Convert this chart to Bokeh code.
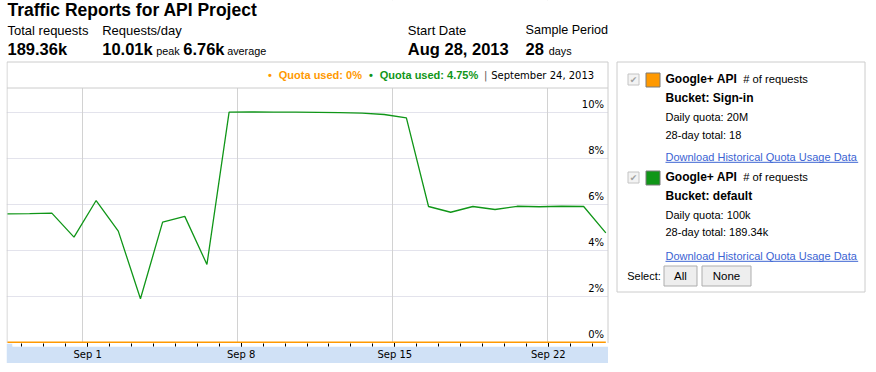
import datetime as dt
from bokeh.plotting import figure
from bokeh.layouts import row, column
from bokeh.models import (Range1d, LinearAxis, FixedTicker, Grid, Label, CustomJSTickFormatter)
from bokeh.embed import file_html
from bokeh.resources import INLINE

# ---------------- data ----------------
dates = ["2013-08-28", "2013-08-29", "2013-08-30", "2013-08-31", "2013-09-01", "2013-09-02",
         "2013-09-03", "2013-09-04", "2013-09-05", "2013-09-06", "2013-09-07", "2013-09-08",
         "2013-09-09", "2013-09-10", "2013-09-11", "2013-09-12", "2013-09-13", "2013-09-14",
         "2013-09-15", "2013-09-16", "2013-09-17", "2013-09-18", "2013-09-19", "2013-09-20",
         "2013-09-21", "2013-09-22", "2013-09-23", "2013-09-24"]
# quota used, percent of daily quota
signin_pct = [0, 0, 0, 0, 0, 0, 0, 0, 0, 0, 0, 0, 0, 0,
              0, 0, 0, 0, 0, 0, 0, 0, 0, 0, 0, 0, 0, 0]
default_pct = [5.58, 5.59, 5.61, 4.57, 6.16, 4.83, 1.89, 5.22, 5.47, 3.38,
               10.0, 10.01, 10.0, 10.0, 9.99, 9.98, 9.96, 9.9, 9.75,
               5.9, 5.65, 5.9, 5.77, 5.91, 5.89, 5.91, 5.9, 4.75]
tick_dates = ["2013-09-01", "2013-09-08", "2013-09-15", "2013-09-22"]
tick_labels = ["Sep 1", "Sep 8", "Sep 15", "Sep 22"]
y_ticks = [0, 2, 4, 6, 8, 10]
y_tick_labels = ["0%", "2%", "4%", "6%", "8%", "10%"]

ORANGE = "#ff9900"
GREEN = "#109618"
LINK = "#3b63d3"
BAND = "#d0e1f6"
FONT = "Liberation Sans"
SMALL = "DejaVu Sans"
TICK_SHIFT = 0.62   # day boundaries (local midnight) sit before the daily samples

d0 = dt.date.fromisoformat(dates[0])
def day_index(s):
    return (dt.date.fromisoformat(s) - d0).days

x = [day_index(d) for d in dates]
major_x = [day_index(d) - TICK_SHIFT for d in tick_dates]
minor_x = [i - TICK_SHIFT for i in range(1, len(dates) + 1)]

# ---------------- layout constants (pixels) ----------------
PX_DAY = 22.16        # pixels per day
X0_PIX = 7            # pixel column of the first sample
FL, FR = 6, 612       # chart figure frame left/right
BL, BR = 6, 608       # axis band left/right
A_H = 343             # height of the chart figure (frame bottom)
PX_PCT = 23.0         # pixels per percent
ZERO_PIX = 341.7      # pixel row of 0 %

XR = Range1d((FL - X0_PIX) / PX_DAY, (FR - X0_PIX) / PX_DAY)
XRB = Range1d((BL - X0_PIX) / PX_DAY, (BR - X0_PIX) / PX_DAY)
YR = Range1d(-(A_H - ZERO_PIX) / PX_PCT, ZERO_PIX / PX_PCT)

def shift(size):
    # Bokeh places the alphabetic baseline a little low; compensate
    return 0.36 * size + 0.3

def label(fig, text, x, y, size, color="#000000", bold=False, font=FONT, align="left",
          baseline="alphabetic", **kw):
    yy = y - shift(size) if baseline == "alphabetic" else y
    fig.add_layout(Label(x=x, y=yy, text=text, text_font=font, text_font_size=f"{size}px",
                         text_font_style="bold" if bold else "normal",
                         text_color=color, text_align=align, text_baseline=baseline, **kw))

# ---------------- chart figure ----------------
pa = figure(width=612, height=A_H, output_backend="svg", toolbar_location=None,
            x_range=XR, y_range=YR,
            extra_x_ranges={"px": Range1d(FL, FR)}, extra_y_ranges={"px": Range1d(A_H, 0)},
            x_axis_location=None, y_axis_location=None,
            min_border_left=FL, min_border_right=612 - FR, min_border_top=0, min_border_bottom=0,
            outline_line_color=None, background_fill_color="white", border_fill_color="white")
pa.center = []
pa.add_layout(Grid(dimension=1, ticker=FixedTicker(ticks=y_ticks[1:]), grid_line_color="#e3e3ec"))
pa.add_layout(Grid(dimension=0, ticker=FixedTicker(ticks=major_x), grid_line_color="#d2d2d2"))

PX = dict(x_range_name="px", y_range_name="px")
# white page areas outside the plot box (hide grid lines there)
pa.quad(left=[FL], right=[FR], top=[0], bottom=[87.5], fill_color="white", line_color=None, **PX)
pa.quad(left=[607.5], right=[FR], top=[0], bottom=[A_H], fill_color="white", line_color=None, **PX)
# chart box + header strip separator
pa.quad(left=[6.5], right=[607.5], top=[61.5], bottom=[400], fill_color=None,
        line_color="#cccccc", line_width=1, **PX)
pa.segment(x0=[6.5], y0=[87.5], x1=[607.5], y1=[87.5], line_color="#cccccc", line_width=1, **PX)

# series
pa.line(x, default_pct, line_color=GREEN, line_width=1.3)
pa.line(x, signin_pct, line_color=ORANGE, line_width=1.5)

# y labels inside plot
for v, t in zip(y_ticks, y_tick_labels):
    pa.add_layout(Label(x=603.5, y=v, x_range_name="px", y_offset=8, text=t,
                        text_font=SMALL, text_font_size="10px", text_color="#000000",
                        text_align="right", text_baseline="alphabetic"))

# header strip of the chart
label(pa, "\u2022", 267.5, 78.5, 11, ORANGE, True, **PX)
label(pa, "Quota used: 0%", 278.3, 78.5, 11, ORANGE, True, **PX)
label(pa, "\u2022", 368.5, 78.5, 11, GREEN, True, **PX)
label(pa, "Quota used: 4.75%", 379.3, 78.5, 11, GREEN, True, **PX)
label(pa, "|", 483.5, 78.5, 10, "#555555", font=SMALL, **PX)
label(pa, "September 24, 2013", 490.7, 78.5, 10, "#000000", font=SMALL, **PX)

# page header
label(pa, "Traffic Reports for API Project", 7, 16.5, 17.5, bold=True, **PX)
label(pa, "Total requests", 7, 34.5, 13, **PX)
label(pa, "189.36k", 7, 54.5, 16.5, bold=True, **PX)
label(pa, "Requests/day", 101.7, 34.5, 13, **PX)
label(pa, "10.01k", 101.7, 54.5, 16.5, bold=True, **PX)
label(pa, "peak", 155.7, 54.5, 10.8, **PX)
label(pa, "6.76k", 182.7, 54.5, 16.5, bold=True, **PX)
label(pa, "average", 226.7, 54.5, 10.8, **PX)
label(pa, "Start Date", 407.3, 34.5, 13, **PX)
label(pa, "Aug 28, 2013", 407.3, 54.5, 16.5, bold=True, **PX)
label(pa, "Sample Period", 525, 34.5, 12.6, **PX)
label(pa, "28", 525, 54.5, 16.5, bold=True, **PX)
label(pa, "days", 548.3, 54.5, 10.8, **PX)

# ---------------- axis strip ----------------
pb = figure(width=BR - BL, height=20, output_backend="svg", toolbar_location=None,
            x_range=XRB, y_range=Range1d(0, 1), x_axis_location=None, y_axis_location=None,
            min_border_left=0, min_border_right=0, min_border_top=0, min_border_bottom=17,
            outline_line_color=None, background_fill_color="white", border_fill_color=BAND,
            margin=(0, 0, 0, BL))
pb.center = []
xaxis = LinearAxis(
    ticker=FixedTicker(ticks=major_x, minor_ticks=minor_x),
    formatter=CustomJSTickFormatter(args=dict(pos=major_x, labels=tick_labels), code="""
        for (let i = 0; i < pos.length; i++) { if (Math.abs(pos[i] - tick) < 1e-6) return labels[i]; }
        return '';
    """),
    axis_line_color=None, major_tick_in=4, major_tick_out=0, minor_tick_in=3, minor_tick_out=0,
    major_tick_line_color="#000000", minor_tick_line_color="#000000",
    major_label_text_font=SMALL, major_label_text_font_size="10px",
    major_label_text_color="#000000", major_label_standoff=2)
pb.add_layout(xaxis, "below")

# ---------------- legend panel ----------------
pl = figure(width=256, height=364, output_backend="svg", toolbar_location=None,
            x_range=Range1d(612, 868), y_range=Range1d(364, 0),
            x_axis_location=None, y_axis_location=None,
            min_border_left=0, min_border_right=0, min_border_top=0, min_border_bottom=0,
            outline_line_color=None, background_fill_color="white", border_fill_color="white")
pl.center = []
pl.quad(left=[616.5], right=[864.5], top=[61.5], bottom=[291.5], fill_color=None,
        line_color="#cccccc", line_width=1)

entries = [
    dict(color=ORANGE, bucket="Bucket: Sign-in", quota="Daily quota: 20M", total="28-day total: 18",
         top=72.5, base=[83.3, 102.3, 120.3, 138.3, 160.3]),
    dict(color=GREEN, bucket="Bucket: default", quota="Daily quota: 100k", total="28-day total: 189.34k",
         top=170.5, base=[181, 200, 218.3, 236, 259.3]),
]
for e in entries:
    t = e["top"]
    b = e["base"]
    pl.quad(left=[627.5], right=[638.5], top=[t + 1], bottom=[t + 12], fill_color="#f3f3f3",
            line_color="#c4c4c4", line_width=1)
    label(pl, "\u2714", 633, t + 6.5, 9, "#a0a0a0", font=SMALL, align="center", baseline="middle")
    pl.quad(left=[645.5], right=[659.5], top=[t], bottom=[t + 14], fill_color=e["color"],
            line_color="#7a7a7a", line_width=1)
    label(pl, "Google+ API", 665, b[0], 12, bold=True)
    label(pl, "# of requests", 742.7, b[0], 11.2)
    label(pl, e["bucket"], 665, b[1], 12, bold=True)
    label(pl, e["quota"], 665, b[2], 11)
    label(pl, e["total"], 665, b[3], 11)
    label(pl, "Download Historical Quota Usage Data", 665, b[4], 11, LINK)
    pl.segment(x0=[665], y0=[b[4] + 1.5], x1=[857.7], y1=[b[4] + 1.5], line_color=LINK, line_width=1)

label(pl, "Select:", 626.7, 280, 11)
pl.quad(left=[663.5], right=[696.5], top=[265.5], bottom=[285.5], fill_color="#eeeeee",
        line_color="#adadad", line_width=1)
pl.quad(left=[701.5], right=[750.5], top=[265.5], bottom=[285.5], fill_color="#eeeeee",
        line_color="#adadad", line_width=1)
label(pl, "All", 680, 280, 11.5, align="center")
label(pl, "None", 726, 280, 11.5, align="center")

root = row(column(pa, pb, spacing=0), pl, spacing=0)
open("out.html", "w").write(file_html(root, INLINE))
